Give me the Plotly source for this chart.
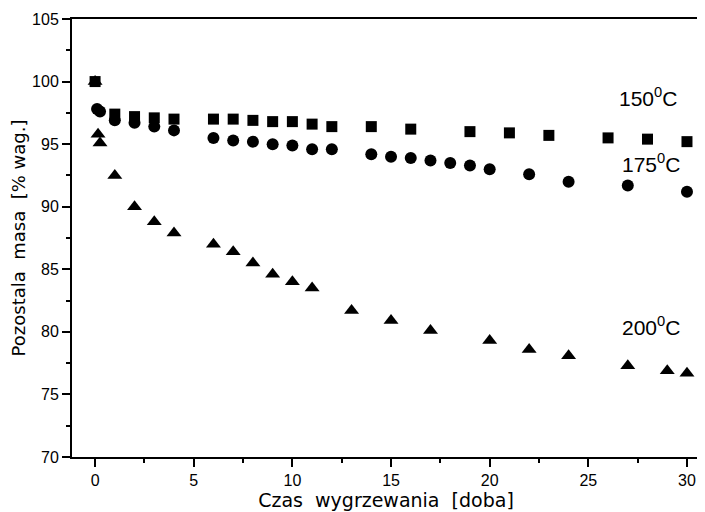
import plotly.graph_objects as go

# 150 C (squares)
x150 = [0, 1, 2, 3, 4, 6, 7, 8, 9, 10, 11, 12, 14, 16, 19, 21, 23, 26, 28, 30]
y150 = [100.0, 97.4, 97.2, 97.1, 97.0, 97.0, 97.0, 96.9, 96.8, 96.8, 96.6, 96.4, 96.4, 96.2, 96.0, 95.9, 95.7, 95.5, 95.4, 95.2]

# 175 C (circles)
x175 = [0.1, 0.25, 1, 2, 3, 4, 6, 7, 8, 9, 10, 11, 12, 14, 15, 16, 17, 18, 19, 20, 22, 24, 27, 30]
y175 = [97.8, 97.6, 96.9, 96.7, 96.4, 96.1, 95.5, 95.3, 95.2, 95.0, 94.9, 94.6, 94.6, 94.2, 94.0, 93.9, 93.7, 93.5, 93.3, 93.0, 92.6, 92.0, 91.7, 91.2]

# 200 C (triangles)
x200 = [0, 0.15, 0.25, 1, 2, 3, 4, 6, 7, 8, 9, 10, 11, 13, 15, 17, 20, 22, 24, 27, 29, 30]
y200 = [100.0, 95.8, 95.1, 92.5, 90.0, 88.8, 87.9, 87.0, 86.4, 85.5, 84.6, 84.0, 83.5, 81.7, 80.9, 80.1, 79.3, 78.6, 78.1, 77.3, 76.9, 76.7]

labels = ["150<sup>0</sup>C", "175<sup>0</sup>C", "200<sup>0</sup>C"]
label_x = [28.0, 28.2, 28.2]
label_y = [98.8, 93.5, 80.5]

TICKFONT = "Liberation Sans, Arial"
TITLEFONT = "DejaVu Sans, Arial"

fig = go.Figure()
fig.add_trace(go.Scatter(x=x150, y=y150, mode="markers",
                         marker=dict(symbol="square", size=11, color="black")))
fig.add_trace(go.Scatter(x=x175, y=y175, mode="markers",
                         marker=dict(symbol="circle", size=12, color="black")))
fig.add_trace(go.Scatter(x=x200, y=y200, mode="markers",
                         marker=dict(symbol="triangle-up", size=13, color="black")))

for t, xx, yy in zip(labels, label_x, label_y):
    fig.add_annotation(x=xx, y=yy, text=t, showarrow=False,
                       font=dict(size=21, color="black", family=TICKFONT))

axis_common = dict(showline=True, linecolor="black", linewidth=2, mirror=True,
                   ticks="outside", ticklen=8, tickwidth=2, tickcolor="black",
                   showgrid=False, zeroline=False, automargin=False,
                   tickfont=dict(size=16, color="black", family=TICKFONT))

fig.update_xaxes(range=[-1.17, 30.66], tickmode="linear", tick0=0, dtick=5,
                 minor=dict(ticks="outside", ticklen=4, tickwidth=2, tickcolor="black", dtick=2.5, tick0=0),
                 title=dict(text="Czas  wygrzewania  [doba]", standoff=2,
                            font=dict(size=19, color="black", family=TITLEFONT)),
                 **axis_common)
fig.update_yaxes(range=[70, 105], tickmode="linear", tick0=70, dtick=5,
                 minor=dict(ticks="outside", ticklen=4, tickwidth=2, tickcolor="black", dtick=2.5, tick0=70),
                 title=dict(text="Pozostala  masa  [% wag.]", standoff=8,
                            font=dict(size=18, color="black", family=TITLEFONT)),
                 **axis_common)

# page body has an 8px margin, so the figure is sized to fit the 705x512 window
fig.update_layout(width=697, height=504, showlegend=False,
                  plot_bgcolor="white", paper_bgcolor="white",
                  margin=dict(l=64, r=5, t=11, b=55))

fig.write_html("out.html")
